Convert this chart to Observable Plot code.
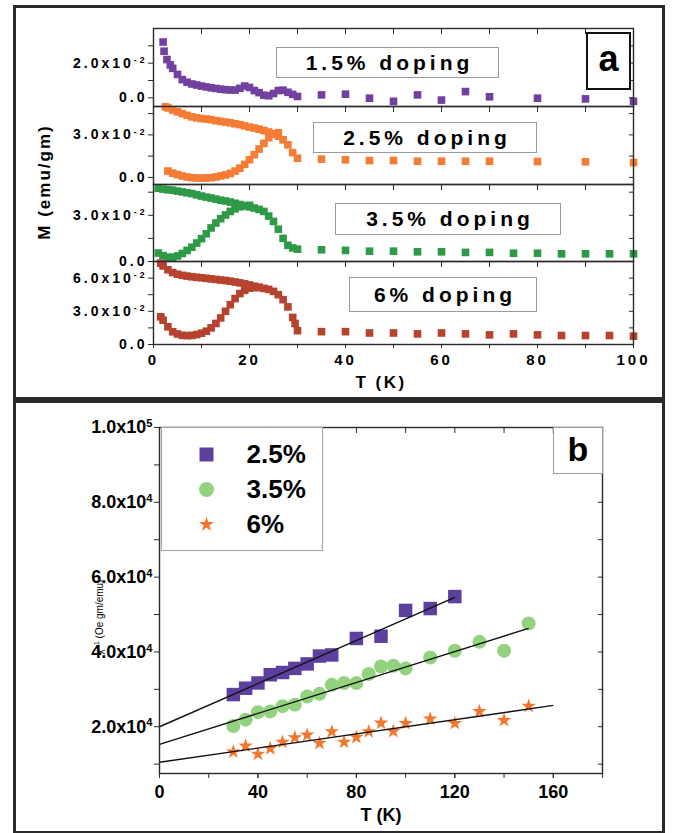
<!DOCTYPE html>
<html><head><meta charset="utf-8">
<script src="https://cdn.jsdelivr.net/npm/d3@7"></script>
<script src="https://cdn.jsdelivr.net/npm/@observablehq/plot@0.6"></script>
<style>
body{margin:0;background:#fff;}
#root{position:relative;width:678px;height:833px;overflow:hidden;font-family:"Liberation Sans",Arial,sans-serif;color:#000;}
.box{position:absolute;box-sizing:border-box;display:flex;align-items:center;justify-content:center;font-weight:bold;white-space:nowrap;background:#fff;}
.lbl{position:absolute;white-space:nowrap;font-weight:bold;transform:translate(-50%,-50%);}
.frame{position:absolute;box-sizing:border-box;border:3px solid #2a2a2a;}
</style></head><body><div id="root"></div>
<script>
// ---------- Panel (a): M (units of 10^-2 emu/gm) vs T (K) ----------
// 1.5% doping
const a1T = [2,2.2,2.8,3.5,4,5,6,7,8,9,10,11,12,13,14,15,16,17,18,19,20,21,22,23,24,25,26,27,28,29,30];
const a1M = [3.22,2.69,2.21,1.9,1.7,1.35,1.05,0.9,0.8,0.74,0.68,0.63,0.58,0.54,0.5,0.47,0.45,0.45,0.55,0.68,0.6,0.42,0.3,0.15,0.12,0.25,0.42,0.44,0.32,0.2,0.08];
const a1hiT = [35,40,45,50,55,60,65,70,80,90,100];
const a1hiM = [0.17,0.21,-0.02,-0.2,0.17,-0.13,0.36,0.06,-0.02,-0.06,-0.2];
// 2.5% doping
const a2fcT = [2.5,3,4,5,6,7,8,9,10,11,12,13,14,15,16,17,18,19,20,21,22,23,24,25,26,27,28,29,30];
const a2fcM = [4.98,4.9,4.75,4.62,4.5,4.38,4.27,4.2,4.15,4.12,4.07,4.0,3.95,3.9,3.85,3.78,3.72,3.63,3.55,3.48,3.4,3.3,3.2,3.07,2.9,2.65,2.3,1.75,1.35];
const a2zfcT = [3,4,5,6,7,8,9,10,11,12,13,14,15,16,17,18,19,20,21,22,23,24,25,26];
const a2zfcM = [0.45,0.3,0.2,0.1,0.03,-0.02,-0.04,-0.05,-0.04,-0.02,0.03,0.1,0.18,0.28,0.45,0.65,0.92,1.25,1.6,2.0,2.4,2.8,3.05,3.15];
const a2hiT = [35,40,45,50,55,60,65,70,80,90,100];
const a2hiM = [1.29,1.24,1.19,1.19,1.14,1.14,1.14,1.14,1.12,1.1,1.05];
// 3.5% doping
const a3fcT = [1,2,3,4,5,6,7,8,9,10,11,12,13,14,15,16,17,18,19,20,21,22,23,24,25,26,27,28,29,30];
const a3fcM = [4.75,4.7,4.66,4.63,4.57,4.52,4.46,4.41,4.33,4.25,4.18,4.12,4.05,3.98,3.93,3.86,3.78,3.7,3.62,3.55,3.47,3.38,3.25,2.95,2.6,2.1,1.5,1.05,0.88,0.8];
const a3zfcT = [1,2,3,4,5,6,7,8,9,10,11,12,13,14,15,16,17,18,19,20];
const a3zfcM = [0.55,0.38,0.28,0.28,0.36,0.52,0.72,0.93,1.2,1.48,1.8,2.18,2.5,2.78,3.02,3.25,3.42,3.55,3.62,3.65];
const a3hiT = [35,40,45,50,55,60,65,70,75,80,85,90,95,100];
const a3hiM = [0.76,0.72,0.67,0.67,0.63,0.63,0.59,0.59,0.54,0.54,0.5,0.5,0.5,0.5];
// 6% doping
const a4fcT = [1.5,2,3,4,5,6,7,8,9,10,11,12,13,14,15,16,17,18,19,20,21,22,23,24,25,26,27,28,29,29.5,30];
const a4fcM = [7.35,7.1,6.75,6.5,6.35,6.25,6.18,6.12,6.07,6.03,5.98,5.93,5.88,5.83,5.78,5.72,5.65,5.57,5.48,5.38,5.27,5.17,5.07,4.98,4.8,4.5,4.05,3.4,2.45,1.9,1.25];
const a4zfcT = [1.5,2,3,4,5,6,7,8,9,10,11,12,13,14,15,16,17,18,19,20,21,22];
const a4zfcM = [2.5,2.2,1.6,1.15,0.95,0.83,0.8,0.82,0.9,1.02,1.2,1.5,1.9,2.4,3.0,3.6,4.15,4.6,4.9,5.1,5.15,5.15];
const a4hiT = [35,40,45,50,55,60,65,70,75,80,85,90,95,100];
const a4hiM = [1.16,1.16,1.04,1.04,0.96,1.04,0.96,0.87,0.96,0.87,0.81,0.81,0.81,0.75];

const aLabels = ["1.5% doping","2.5% doping","3.5% doping","6% doping"];
const aColors = ["#7241a0","#f47c34","#2e9a48","#b5432e"];

// ---------- Panel (b): inverse susceptibility (units of 10^4 Oe gm/emu) ----------
const bNames = ["2.5%","3.5%","6%"];
const bColors = ["#5d3f9d","#93d27e","#f4762e"];
const bT25 = [30,35,40,45,50,55,60,65,70,80,90,100,110,120];
const bV25 = [2.86,3.03,3.17,3.39,3.45,3.56,3.68,3.89,3.92,4.36,4.42,5.11,5.16,5.48];
const bT35 = [30,35,40,45,50,55,60,65,70,75,80,85,90,95,100,110,120,130,140,150];
const bV35 = [2.02,2.19,2.39,2.41,2.55,2.59,2.81,2.88,3.12,3.17,3.17,3.41,3.61,3.63,3.56,3.85,4.03,4.27,4.03,4.76];
const bT6 = [30,35,40,45,50,55,60,65,70,75,80,85,90,95,100,110,120,130,140,150];
const bV6 = [1.33,1.49,1.27,1.42,1.59,1.71,1.78,1.56,1.87,1.59,1.72,1.87,2.10,1.88,2.09,2.21,2.09,2.41,2.17,2.55];
// linear fits (end points)
const fitT0 = [0,0,0], fitT1 = [120,150,160];
const fitV0 = [2.0,1.53,1.05], fitV1 = [5.46,4.63,2.57];

// ---------- helpers ----------
const root = document.getElementById("root");
const rows = (T, M) => T.map((t, i) => ({T: t, M: M[i]}));
const fmtA = v => v === 0 ? "0.0" : `${v.toFixed(1)}x10|-2`;
const fmtB = v => v === 10 ? "1.0x10|5" : `${v.toFixed(1)}x10|4`;
const blank = () => "";
const NS = "http://www.w3.org/2000/svg";
function superscripts(svg) {
  svg.querySelectorAll("text").forEach(t => {
    const s = t.textContent;
    if (s.includes("|")) {
      const [b, e] = s.split("|");
      t.textContent = "";
      const t1 = document.createElementNS(NS, "tspan"); t1.textContent = b;
      const t2 = document.createElementNS(NS, "tspan"); t2.textContent = e;
      t2.setAttribute("dy", "-0.55em"); t2.setAttribute("font-size", "0.62em");
      t.append(t1, t2);
    }
  });
}
function place(el, left, top) {
  el.style.position = "absolute"; el.style.left = left + "px"; el.style.top = top + "px";
  root.appendChild(el);
}
function styleA(ls) {
  return {background: "transparent", overflow: "visible", fontFamily: "'Liberation Sans', Arial, sans-serif", letterSpacing: ls, color: "#2a2a2a"};
}

// ---------- panel (a) sub-panels ----------
const subs = [
  {series: [rows(a1T, a1M), rows(a1hiT, a1hiM)], domain: [-0.5, 4], major: [0, 2], minor: [1, 3], top: 28, bottom: 106},
  {series: [rows(a2fcT, a2fcM), rows(a2zfcT, a2zfcM), rows(a2hiT, a2hiM)], domain: [-0.5, 5], major: [0, 3], minor: [1.5, 4.5], top: 106, bottom: 184},
  {series: [rows(a3fcT, a3fcM), rows(a3zfcT, a3zfcM), rows(a3hiT, a3hiM)], domain: [0, 5], major: [0, 3], minor: [1.5, 4.5], top: 184, bottom: 261},
  {series: [rows(a4fcT, a4fcM), rows(a4zfcT, a4zfcM), rows(a4hiT, a4hiM)], domain: [0, 7.5], major: [0, 3, 6], minor: [1.5, 4.5], top: 261, bottom: 344, xAxis: true}
];
subs.forEach((s, k) => {
  const mt = 10, mb = s.xAxis ? 45 : 10;
  const all = [...s.major, ...s.minor];
  const marks = [];
  for (const d of s.series) marks.push(Plot.dot(d, {x: "T", y: "M", symbol: "square", r: 4.3, fill: aColors[k]}));
  marks.push(
    Plot.frame({stroke: "#2a2a2a", strokeWidth: 1.4}),
    Plot.axisY(s.major, {anchor: "left", tickSize: 5, tickPadding: 1, tickFormat: fmtA, fontSize: 14, fontWeight: "bold", fill: "#000", label: null}),
    Plot.axisY(s.minor, {anchor: "left", tickSize: 5, tickFormat: blank, label: null}),
    Plot.axisY(all, {anchor: "right", tickSize: -5, tickFormat: blank, label: null}),
    Plot.axisX(d3.range(0, 101, 10), {anchor: "top", tickSize: -5, tickFormat: blank, label: null})
  );
  if (s.xAxis) marks.push(
    Plot.axisX(d3.range(0, 101, 10), {anchor: "bottom", tickSize: 4, tickFormat: blank, label: null}),
    Plot.axisX(d3.range(0, 101, 20), {anchor: "bottom", tickSize: 4, tickPadding: 6, fontSize: 15, fontWeight: "bold", fill: "#000", label: null})
  );
  const p = Plot.plot({
    width: 678, height: (s.bottom - s.top) + mt + mb,
    marginLeft: 153, marginRight: 678 - 633, marginTop: mt, marginBottom: mb,
    x: {domain: [0, 100]}, y: {domain: s.domain},
    style: styleA("3px"),
    marks
  });
  superscripts(p);
  place(p, 0, s.top - mt);
});

// annotation boxes panel (a)
const aBoxes = [[276, 47, 223, 31], [313, 122, 224, 31], [335, 203, 226, 32], [349, 277, 188, 35]];
aBoxes.forEach((b, i) => {
  const d = document.createElement("div");
  d.className = "box";
  d.style.cssText += `left:${b[0]}px;top:${b[1]}px;width:${b[2]}px;height:${b[3]}px;border:1px solid #9a9a9a;font-size:21px;letter-spacing:4px;padding-left:4px;`;
  d.textContent = aLabels[i];
  root.appendChild(d);
});
{
  const d = document.createElement("div");
  d.className = "box";
  d.style.cssText += "left:586px;top:32px;width:45px;height:58px;border:2.5px solid #111;font-size:36px;padding-bottom:4px;";
  d.textContent = "a";
  root.appendChild(d);
}
function label(text, x, y, css, html) {
  const d = document.createElement("div");
  d.className = "lbl";
  d.style.cssText += `left:${x}px;top:${y}px;` + css;
  if (html) d.innerHTML = text; else d.textContent = text;
  root.appendChild(d);
}
label("M (emu/gm)", 45, 182, "font-size:17px;letter-spacing:2px;transform:translate(-50%,-50%) rotate(-90deg);");
label("T (K)", 381, 383, "font-size:17px;letter-spacing:2.5px;");

// ---------- panel (b) ----------
{
  const top = 401;
  const marks = [
    Plot.dot(rows(bT25, bV25), {x: "T", y: "M", symbol: "square", r: 7.6, fill: bColors[0]}),
    Plot.dot(rows(bT35, bV35), {x: "T", y: "M", symbol: "circle", r: 7, fill: bColors[1]}),
    Plot.dot(rows(bT6, bV6), {x: "T", y: "M", symbol: "star", r: 4.6, fill: bColors[2]}),
    Plot.link(fitT0, {x1: fitT0, x2: fitT1, y1: fitV0, y2: fitV1, stroke: "#111", strokeWidth: 1.4}),
    Plot.frame({stroke: "#2a2a2a", strokeWidth: 1.4}),
    Plot.axisY([2, 4, 6, 8, 10], {anchor: "left", tickSize: 5, tickPadding: 2, tickFormat: fmtB, fontSize: 18, fontWeight: "bold", fill: "#000", label: null}),
    Plot.axisY([1, 3, 5, 7, 9], {anchor: "left", tickSize: 5, tickFormat: blank, label: null}),
    Plot.axisY(d3.range(1, 11), {anchor: "right", tickSize: -5, tickFormat: blank, label: null}),
    Plot.axisX(d3.range(0, 181, 20), {anchor: "top", tickSize: -5, tickFormat: blank, label: null}),
    Plot.axisX(d3.range(0, 181, 20), {anchor: "bottom", tickSize: 5, tickFormat: blank, label: null}),
    Plot.axisX([0, 40, 80, 120, 160], {anchor: "bottom", tickSize: 5, tickPadding: 7, fontSize: 18, fontWeight: "bold", fill: "#000", label: null})
  ];
  const p = Plot.plot({
    width: 678, height: 432,
    marginLeft: 159, marginRight: 678 - 602, marginTop: 427 - top, marginBottom: 432 - (773 - top),
    x: {domain: [0, 180]}, y: {domain: [0.75, 10]},
    style: styleA("0px"),
    marks
  });
  superscripts(p);
  place(p, 0, top);

  // legend
  const syms = ["square", "circle", "star"], rs = [7.9, 7.5, 4.7];
  const lm = [Plot.frame({stroke: "#a8a8a8", strokeWidth: 1.2})];
  bNames.forEach((n, i) => lm.push(Plot.dot([n], {y: d => d, frameAnchor: "left", dx: 45, symbol: syms[i], r: rs[i], fill: bColors[i]})));
  lm.push(Plot.text(bNames, {y: d => d, text: d => d, frameAnchor: "left", dx: 85, textAnchor: "start", fontSize: 26, fontWeight: "bold", fill: "#000"}));
  const leg = Plot.plot({
    width: 161, height: 123, margin: 0,
    x: {domain: [0, 1], axis: null},
    y: {type: "point", domain: bNames, range: [27, 97], padding: 0, axis: null},
    style: {background: "#fff", overflow: "visible", fontFamily: "'Liberation Sans', Arial, sans-serif"},
    marks: lm
  });
  place(leg, 161, 427);

  const d = document.createElement("div");
  d.className = "box";
  d.style.cssText += "left:553px;top:427px;width:50px;height:47px;border:1px solid #9a9a9a;font-size:34px;padding-bottom:3px;";
  d.textContent = "b";
  root.appendChild(d);

  label("T (K)", 381, 815, "font-size:18px;");
  label("χ<sup style='font-size:0.7em'>−1</sup> (Oe gm/emu)", 99, 617, "font-size:10px;font-weight:normal;color:#000;transform:translate(-50%,-50%) rotate(-90deg);", true);
}

// outer frames
[[13, 5, 652, 395], [13, 400, 652, 434]].forEach(f => {
  const d = document.createElement("div");
  d.className = "frame";
  d.style.cssText += `left:${f[0]}px;top:${f[1]}px;width:${f[2]}px;height:${f[3]}px;`;
  root.appendChild(d);
});
</script></body></html>
